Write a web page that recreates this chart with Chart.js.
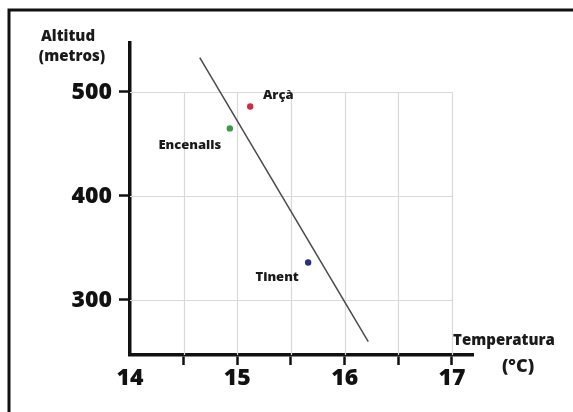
<!DOCTYPE html>
<html>
<head>
<meta charset="utf-8">
<script src="https://cdn.jsdelivr.net/npm/chart.js@4/dist/chart.umd.min.js"></script>
<style>
  html, body { margin: 0; padding: 0; background: #fff; }
  #wrap { width: 573px; height: 412px; position: relative; }
</style>
</head>
<body>
<div id="wrap"><canvas id="chart" width="573" height="412"></canvas></div>
<script>
// Stations (temperature in C, altitude in m)
var stationNames = ["Arçà", "Encenalls", "Tinent"];
var stationTemp = [15.12, 14.93, 15.66];
var stationAlt = [486, 465, 336];
var stationColors = ["#d22a3c", "#3c9a4a", "#2b2f82"];

// trend line end points
var trendTemp = [14.65, 16.22];
var trendAlt = [533, 260];

// ticks
var xTicks = [14, 14.5, 15, 15.5, 16, 16.5, 17];
var xLabels = [14, 15, 16, 17];
var yTicks = [300, 400, 500];

var FONT = "'Open Sans', Lato, sans-serif";

// label offsets in px from each point (style only)
var labelOffsets = [[28, -11], [-40, 17], [-31, 15]];

var points = stationTemp.map(function (t, i) { return { x: t, y: stationAlt[i] }; });
var trend = trendTemp.map(function (t, i) { return { x: t, y: trendAlt[i] }; });

// draws frame, partial grid and the text bits
var decorPlugin = {
    id: 'decor',
    beforeDraw: function (chart) {
        var ctx = chart.ctx;
        ctx.save();
        ctx.fillStyle = '#fff';
        ctx.fillRect(0, 0, chart.width, chart.height);
        ctx.strokeStyle = '#111';
        ctx.lineWidth = 3;
        ctx.beginPath();
        ctx.moveTo(9, chart.height);
        ctx.lineTo(9, 10);
        ctx.lineTo(chart.width, 10);
        ctx.stroke();
        ctx.restore();
    },
    beforeDatasetsDraw: function (chart) {
        var ctx = chart.ctx, x = chart.scales.x, y = chart.scales.y;
        var xMin = x.getPixelForValue(xTicks[0]), xMax = x.getPixelForValue(xTicks[xTicks.length - 1]);
        var yTop = y.getPixelForValue(yTicks[yTicks.length - 1]), yBot = chart.chartArea.bottom;
        ctx.save();
        ctx.strokeStyle = '#d9d9d9';
        ctx.lineWidth = 1.2;
        ctx.beginPath();
        xTicks.slice(1).forEach(function (v) {
            var px = Math.round(x.getPixelForValue(v)) + 0.5;
            ctx.moveTo(px, yTop);
            ctx.lineTo(px, yBot);
        });
        yTicks.forEach(function (v) {
            var py = Math.round(y.getPixelForValue(v)) + 0.5;
            ctx.moveTo(xMin, py);
            ctx.lineTo(xMax, py);
        });
        ctx.stroke();
        ctx.restore();
    },
    afterDraw: function (chart) {
        var ctx = chart.ctx, x = chart.scales.x, y = chart.scales.y, area = chart.chartArea;
        ctx.save();
        ctx.fillStyle = '#1a1a1a';
        ctx.textAlign = 'center';
        ctx.textBaseline = 'middle';
        ctx.font = '800 13px ' + FONT;
        stationNames.forEach(function (name, i) {
            var px = x.getPixelForValue(stationTemp[i]) + labelOffsets[i][0];
            var py = y.getPixelForValue(stationAlt[i]) + labelOffsets[i][1];
            ctx.fillText(name, px, py);
        });
        ctx.font = '800 15px ' + FONT;
        ctx.fillText('Altitud', area.left - 62, area.top - 6);
        ctx.fillText('(metros)', area.left - 58, area.top + 14);
        ctx.fillText('Temperatura', area.right + 31, area.bottom - 14);
        ctx.font = '800 18px ' + FONT;
        ctx.fillText('(°C)', area.right + 45, area.bottom + 12);
        ctx.restore();
    }
};

new Chart(document.getElementById('chart'), {
    type: 'scatter',
    data: {
        datasets: [
            {
                label: 'trend',
                type: 'line',
                data: trend,
                borderColor: '#4a4a4a',
                borderWidth: 1.5,
                pointRadius: 0,
                fill: false
            },
            {
                label: 'stations',
                data: points,
                backgroundColor: stationColors,
                borderColor: stationColors,
                pointRadius: 3.2,
                pointBorderWidth: 0
            }
        ]
    },
    options: {
        responsive: false,
        animation: false,
        layout: { padding: { left: 0, top: 43, right: 100, bottom: 0 } },
        plugins: { legend: { display: false }, tooltip: { enabled: false } },
        scales: {
            x: {
                type: 'linear',
                min: 14,
                max: 17.196,
                afterBuildTicks: function (s) { s.ticks = xTicks.map(function (v) { return { value: v }; }); },
                afterFit: function (s) { s.height = 57; },
                ticks: {
                    autoSkip: false,
                    maxRotation: 0,
                    padding: 0,
                    color: '#111',
                    font: { family: FONT, size: 23, weight: '800' },
                    callback: function (v) { return xLabels.indexOf(v) >= 0 ? String(v) : ''; }
                },
                grid: {
                    drawOnChartArea: false,
                    tickLength: 10,
                    tickWidth: 2.5,
                    tickColor: function (c) { return c.tick && c.tick.value === 14 ? 'rgba(0,0,0,0)' : '#111'; }
                },
                border: { color: '#111', width: 3.5 }
            },
            y: {
                type: 'linear',
                min: 247.1,
                max: 547.1,
                afterBuildTicks: function (s) { s.ticks = yTicks.map(function (v) { return { value: v }; }); },
                afterFit: function (s) { s.width = 130; },
                ticks: {
                    autoSkip: false,
                    padding: 7,
                    color: '#111',
                    font: { family: FONT, size: 23, weight: '800' }
                },
                grid: {
                    drawOnChartArea: false,
                    tickLength: 11,
                    tickWidth: 2.5,
                    tickColor: '#111'
                },
                border: { color: '#111', width: 3.5 }
            }
        }
    },
    plugins: [decorPlugin]
});
</script>
</body>
</html>
